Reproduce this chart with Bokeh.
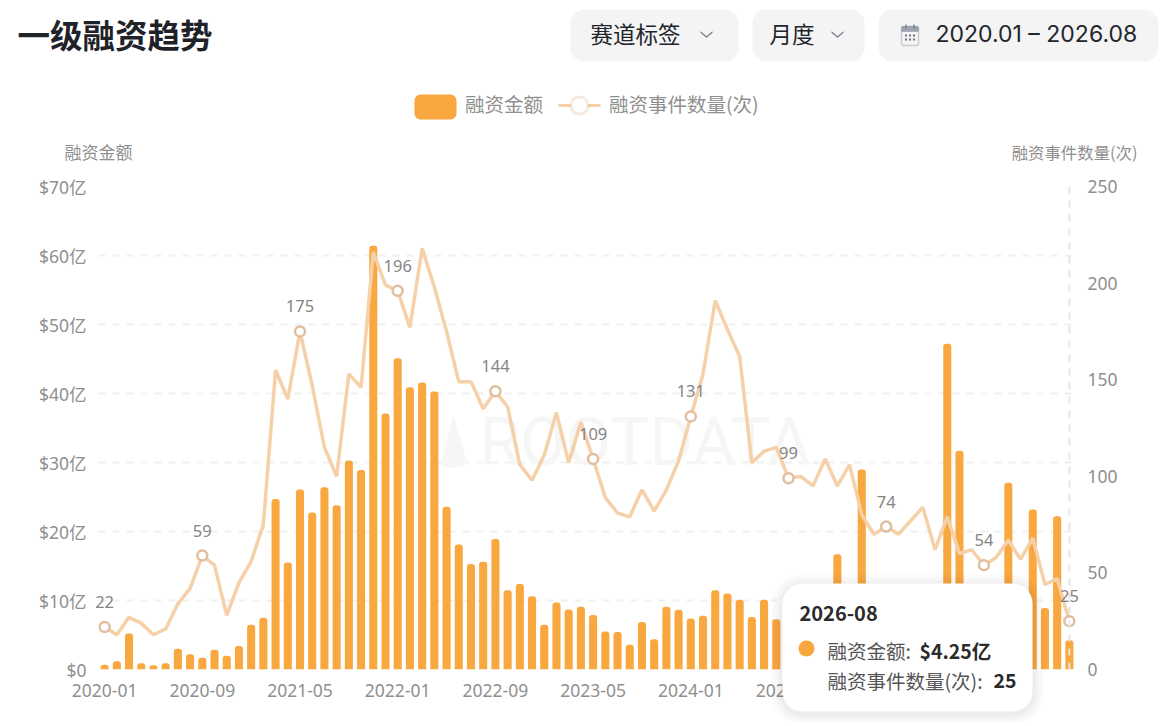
from bokeh.plotting import figure
from bokeh.layouts import column
from bokeh.models import (Range1d, LinearAxis, FixedTicker, BoxAnnotation, Label, PolyAnnotation,
                          Span, Legend, LegendItem, ColumnDataSource)
from bokeh.core.properties import value
from bokeh.embed import file_html
from bokeh.resources import INLINE

months = [f"{y}-{m:02d}" for y in range(2020, 2027) for m in range(1, 13)][:80]

amount = [0.7, 1.2, 5.2, 0.9, 0.6, 0.9, 3.0, 2.2, 1.7, 2.85, 2.0, 3.4, 6.5, 7.5, 24.7, 15.5,
          26.1, 22.75, 26.4, 23.8, 30.3, 28.9, 61.4, 37.1, 45.1, 40.9, 41.6, 40.3, 23.6, 18.1,
          15.3, 15.6, 18.9, 11.5, 12.4, 10.6, 6.5, 9.7, 8.7, 9.1, 7.9, 5.5, 5.45, 3.6, 6.9, 4.4,
          9.1, 8.65, 7.4, 7.8, 11.5, 11.0, 10.1, 7.6, 10.1, 7.3, 6.5, 8.0, 9.5, 8.0, 16.7, 5.0,
          29.0, 6.0, 7.0, 5.5, 6.5, 8.0, 7.0, 47.2, 31.7, 9.0, 7.0, 6.0, 27.05, 8.0, 23.2, 8.9,
          22.2, 4.25]

events = [22, 18, 27, 24, 18, 21, 34, 42, 59, 54, 28, 45, 56, 75, 155, 140,
          175, 147, 115, 100, 153, 146, 216, 199, 196, 177, 218, 198, 175, 149,
          149, 135, 144, 136, 106, 98, 111, 133, 107, 128, 109, 89, 81, 79, 93, 82,
          93, 108, 131, 153, 191, 176, 162, 107, 113, 115, 99, 100, 95, 109, 95, 106,
          80, 70, 74, 70, 77, 84, 62, 79, 60, 62, 54, 58, 67, 57, 68, 44,
          47, 25]

label_idx = [0, 8, 16, 24, 32, 40, 48, 56, 64, 72, 79]
amount_ticks = [0, 10, 20, 30, 40, 50, 60, 70]
event_ticks = [0, 50, 100, 150, 200, 250]
title_text = "一级融资趋势"
amount_name = "融资金额"
events_name = "融资事件数量(次)"

CJK = "Noto Sans CJK SC"
AXF = "Noto Sans, Noto Sans CJK SC"
GREY = "#8f8f8f"
BAR = "#F9A73F"
LINE = "#F5D0A9"
RING = "#E0BE9F"
DARK = "#1f2329"

W, H = 1167, 722
L, R, T_, B = 98, 92, 186, 53
FW, FH = W - L - R, H - T_ - B

p = figure(width=W, height=H, output_backend="svg", toolbar_location=None,
           x_range=Range1d(-0.5, 79.5), y_range=Range1d(0, 70),
           min_border_left=L, min_border_right=R, min_border_top=T_, min_border_bottom=B,
           outline_line_color=None, background_fill_color="white", border_fill_color="white")
p.extra_y_ranges = {"events": Range1d(0, 250)}
p.frame_align = False

# axes
xa = p.xaxis[0]
xa.ticker = FixedTicker(ticks=list(range(0, 80, 8)))
xa.major_label_overrides = {i: months[i] for i in range(0, 80, 8)}
ya = p.yaxis[0]
ya.ticker = FixedTicker(ticks=amount_ticks)
ya.major_label_overrides = {v: ("$0" if v == 0 else f"${v}亿") for v in amount_ticks}
ra = LinearAxis(y_range_name="events", ticker=FixedTicker(ticks=event_ticks))
p.add_layout(ra, "right")
for a, st in ((xa, 8), (ya, 6), (ra, 6)):
    a.axis_line_color = None
    a.major_tick_line_color = None
    a.minor_tick_line_color = None
    a.major_label_standoff = st
    a.major_label_text_font = AXF
    a.major_label_text_font_size = "17.5px"
    a.major_label_text_color = GREY

p.xgrid.visible = False
p.ygrid[0].ticker = FixedTicker(ticks=amount_ticks)
p.ygrid[0].grid_line_color = "#f0f0f0"
p.ygrid[0].grid_line_width = 2
p.ygrid[0].grid_line_dash = "7 7"

# overlay covering the whole canvas, sharing the chart's scales, for everything outside the plot area
x_per_px = 80 / FW
ev_per_px = 250 / FH
q = figure(width=W, height=H, output_backend="svg", toolbar_location=None,
           x_range=Range1d(-0.5 - L * x_per_px, 79.5 + R * x_per_px),
           y_range=Range1d(-B * ev_per_px, 250 + T_ * ev_per_px),
           x_axis_location=None, y_axis_location=None, min_border=0,
           outline_line_color=None, background_fill_alpha=0, border_fill_alpha=0)
q.grid.visible = False
q.margin = (-H, 0, 0, 0)
q.frame_align = False


def lab(txt, x, y, size, color=GREY, align="left", style="normal", font=CJK, fig=q, level="annotation"):
    lb = Label(x=x, y=y, x_units="canvas", y_units="canvas", text=txt, text_font=font,
               text_font_size=f"{size}px", text_color=color, text_align=align,
               text_baseline="middle", text_font_style=style, level=level)
    fig.add_layout(lb)
    return lb


def box(l, t, r, b, fill="#f4f4f5", radius=0, line=None, lw=1, alpha=1.0):
    bx = BoxAnnotation(left=l, right=r, top=t, bottom=b,
                       left_units="canvas", right_units="canvas", top_units="canvas", bottom_units="canvas",
                       fill_color=fill, fill_alpha=alpha, line_color=line, line_width=lw,
                       border_radius=radius, editable=False)
    q.add_layout(bx)
    return bx


def chevron(cx, cy, w=6, h=5, color="#6b7280"):
    t = 1.6
    xs = [cx - w, cx, cx + w, cx + w, cx, cx - w]
    ys = [cy - h / 2 - t / 2, cy + h / 2 - t / 2, cy - h / 2 - t / 2, cy - h / 2 + t / 2, cy + h / 2 + t / 2, cy - h / 2 + t / 2]
    q.add_layout(PolyAnnotation(xs=xs, ys=ys, xs_units="canvas", ys_units="canvas",
                                fill_color=color, fill_alpha=1, line_color=None, editable=False))


# watermark
p.add_layout(PolyAnnotation(xs=[440, 453, 467, 460, 446], ys=[463, 415, 463, 467, 467],
                            xs_units="canvas", ys_units="canvas", fill_color="#f6f6f6", fill_alpha=1,
                            line_color=None, level="underlay", editable=False))
lab("ROOTDATA", 479, 442, 66, color="#f6f6f6", font="Roboto", fig=p, level="underlay")

# marks
src = ColumnDataSource(dict(x=list(range(80)), amount=amount, events=events, month=months))
bars = p.vbar(x="x", top="amount", width=0.66, source=src, fill_color=BAR, line_color=None,
              border_radius=(3, 3, 0, 0))
p.add_layout(Span(location=79, dimension="height", line_color="#e6e6e6", line_width=2, line_dash="7 7"))
ln = p.line(x="x", y="events", source=src, y_range_name="events", line_color=LINE, line_width=3.5)
lsrc = ColumnDataSource(dict(x=label_idx, y=[events[i] for i in label_idx], t=[str(events[i]) for i in label_idx]))
p.scatter(x="x", y="y", source=lsrc, y_range_name="events", size=10, marker="circle",
          fill_color="white", line_color=RING, line_width=2.5)
q.text(x="x", y="y", text="t", source=lsrc, y_offset=-25, text_align="center",
       text_baseline="middle", text_font=value(AXF), text_font_size="16.5px", text_color="#858585")

# legend: the key swatches are drawn as shapes below, the legend supplies the labels
k_bar = q.vbar(x="x", top="events", width=0.66, source=src, fill_color=BAR, fill_alpha=0, line_color=None)
k_line = q.line(x="x", y="events", source=src, line_color=LINE, line_alpha=0, line_width=3.5)
legend = Legend(items=[LegendItem(label=amount_name, renderers=[k_bar]), LegendItem(label=events_name, renderers=[k_line])],
                orientation="horizontal", location=(414, H - 118), glyph_width=42, glyph_height=25,
                label_standoff=9, spacing=15, padding=0, margin=0, border_line_color=None,
                background_fill_alpha=0, label_text_font=CJK, label_text_font_size="19.5px",
                label_text_color=GREY, label_height=25)
q.add_layout(legend, "center")
box(414, 94, 456, 119, fill=BAR, radius=6)
box(558, 103.5, 600, 106.5, fill=LINE)
box(570.5, 96.5, 587.5, 113.5, fill="white", radius=8, line=RING, lw=3)

# axis titles
lab(amount_name, 64, 151, 17)
lab(events_name, 1137, 151, 16.4, align="right")

# header
lab(title_text, 17, 33, 32.5, color=DARK, style="bold")
box(570, 9, 738, 61, radius=14)
box(752, 9, 864, 61, radius=14)
box(878, 9, 1158, 61, radius=14)
lab("赛道标签", 590, 32, 22.5, color="#22262b")
lab("月度", 769, 32, 22.5, color="#22262b")
lab("2020.01 – 2026.08", 935, 33, 23, color="#22262b", font="Inter")
chevron(706, 34)
chevron(837, 34)
box(901, 26, 918, 45, fill="#f4f4f5", radius=2, line="#6b7280", lw=1.5)
box(901, 26, 918, 31, fill="#9ca3af", radius=1, line="#6b7280", lw=1)
for xx in (905.5, 913.5):
    box(xx - .6, 24, xx + .6, 28, fill="#6b7280")
for yy in (35, 39):
    for xx in (905.5, 909.5, 913.5):
        box(xx - 1, yy - 1, xx + 1, yy + 1, fill="#6b7280")

# tooltip
for g, a in ((12, .012), (9, .015), (6, .02), (3, .025)):
    box(782 - g, 583 - g + 2, 1032 + g, 711 + g + 2, fill="black", radius=20 + g, alpha=a)
box(782, 583, 1032, 711, fill="white", radius=20)
T = "#2b2b2b"
lab(months[-1], 799, 613, 20, color=T, style="bold")
box(798, 640, 814, 656, fill=BAR, radius=8)
lab(amount_name + ":", 827, 650, 19.5, color="#555555")
lab(f"${amount[-1]}亿", 919, 650, 19.5, color=T, style="bold")
lab(events_name + ":", 827, 680, 19.5, color="#555555")
lab(str(events[-1]), 993, 680, 19.5, color=T, style="bold")

open("out.html", "w").write(file_html(column(p, q), INLINE))
